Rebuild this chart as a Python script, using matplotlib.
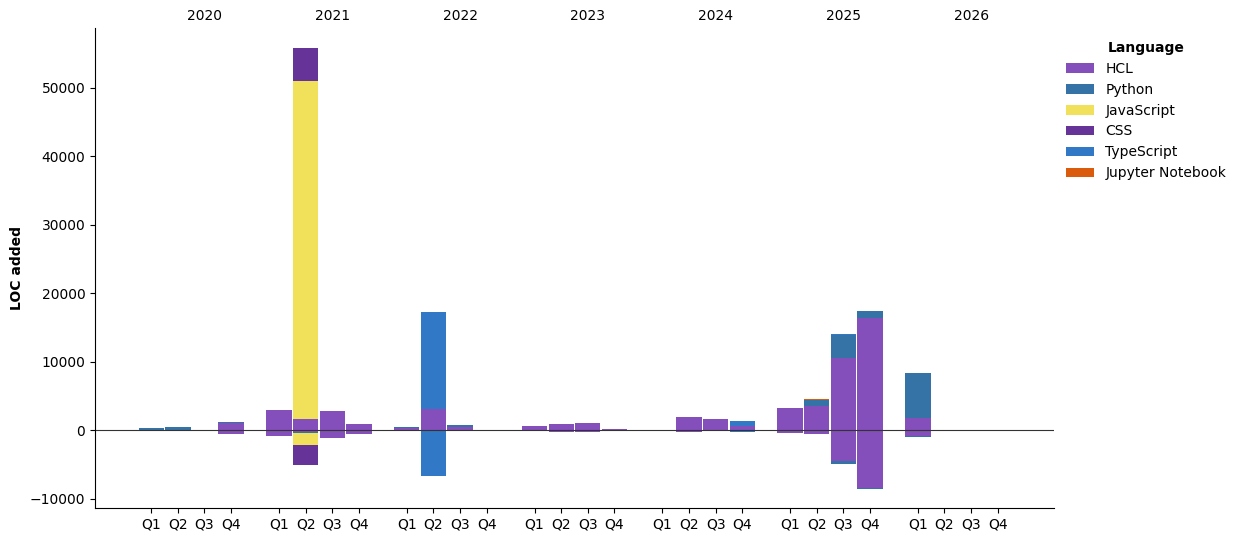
import numpy as np
import matplotlib
matplotlib.use("Agg")
import matplotlib.pyplot as plt

# quarters 2020 Q1 .. 2026 Q4
years = ["2020", "2021", "2022", "2023", "2024", "2025", "2026"]
quarters = ["Q1", "Q2", "Q3", "Q4"]
languages = ["HCL", "Python", "JavaScript", "CSS", "TypeScript", "Jupyter Notebook"]
lang_colors = ["#844FBA", "#3572A5", "#F1E05A", "#663399", "#3178C6", "#DA5B0B"]

# lines added per quarter (positive stack)
hcl_added = [0, 0, 0, 1070,
             2960, 1650, 2810, 920,
             330, 3100, 480, 0,
             630, 920, 1070, 150,
             0, 1940, 1650, 630,
             3250, 3590, 10540, 16370,
             1790, 0, 0, 0]
python_added = [350, 500, 0, 150,
                0, 0, 0, 0,
                150, 0, 290, 0,
                0, 0, 0, 0,
                0, 0, 0, 0,
                0, 830, 3400, 1020,
                6560, 0, 0, 0]
js_added = [0, 0, 0, 0,
            0, 49400, 0, 0] + [0] * 20
css_added = [0, 0, 0, 0,
             0, 4800, 0, 0] + [0] * 20
ts_added = [0, 0, 0, 0,
            0, 0, 0, 0,
            0, 14140, 0, 0,
            0, 0, 0, 0,
            0, 0, 0, 730,
            0, 0, 140, 0,
            0, 0, 0, 0]
jupyter_added = [0] * 20 + [0, 140, 0, 0] + [0] * 4

# lines removed per quarter (negative stack)
hcl_removed = [0, 0, 0, -540,
               -830, -200, -1080, -490,
               -100, 0, -100, 0,
               -80, -250, -250, -30,
               0, -250, -50, -100,
               -390, -540, -4480, -8410,
               -780, 0, 0, 0]
python_removed = [0, -50, 0, 0,
                  0, -150, 0, 0,
                  0, 0, 0, 0,
                  0, 0, 0, 0,
                  0, 0, 0, 0,
                  0, 0, -390, -150,
                  -150, 0, 0, 0]
js_removed = [0, 0, 0, 0,
              0, -1800, 0, 0] + [0] * 20
css_removed = [0, 0, 0, 0,
               0, -3000, 0, 0] + [0] * 20
ts_removed = [0, 0, 0, 0,
              0, 0, 0, 0,
              0, -6760, 0, 0,
              0, 0, 0, 0,
              0, 0, 0, -150,
              0, 0, 0, 0,
              0, 0, 0, 0]
jupyter_removed = [0] * 28

added = [hcl_added, python_added, js_added, css_added, ts_added, jupyter_added]
removed = [hcl_removed, python_removed, js_removed, css_removed, ts_removed, jupyter_removed]

year_step = 4.8
x = np.array([i * year_step + q for i in range(len(years)) for q in range(4)])

fig, ax = plt.subplots(figsize=(12.42, 5.42), dpi=100)
fig.subplots_adjust(left=0.0765, right=0.8486, top=0.948, bottom=0.063)

pos_base = np.zeros(len(x))
neg_base = np.zeros(len(x))
for lang, col, up, down in zip(languages, lang_colors, added, removed):
    up = np.array(up, dtype=float)
    down = np.array(down, dtype=float)
    ax.bar(x, up, bottom=pos_base, width=0.95, color=col, linewidth=0, label=lang)
    ax.bar(x, down, bottom=neg_base, width=0.95, color=col, linewidth=0)
    pos_base += up
    neg_base += down

ax.axhline(0, color="#333333", linewidth=0.8)

ax.set_xticks(x)
ax.set_xticklabels(quarters * len(years))
ax.set_ylim(-11340, 58700)
ax.set_ylabel("LOC added", fontweight="bold")
ax.spines["top"].set_visible(False)
ax.spines["right"].set_visible(False)

top = ax.secondary_xaxis("top")
top.set_xticks([i * year_step + 2 for i in range(len(years))])
top.set_xticklabels(years)
top.tick_params(length=0)
top.spines["top"].set_visible(False)

ax.legend(title="Language", loc="upper left", bbox_to_anchor=(1.0, 1.0),
          frameon=False, title_fontproperties={"weight": "bold"})

fig.savefig("out.png", dpi=100)
